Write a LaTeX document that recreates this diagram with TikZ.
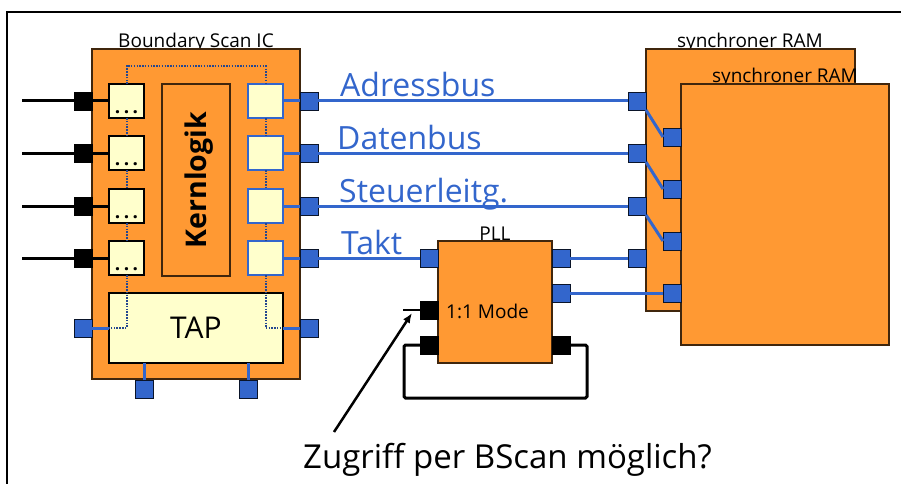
\documentclass[tikz,border=0pt]{standalone}
\usepackage{fontspec}
\setmainfont{Open Sans}
\usetikzlibrary{positioning,arrows.meta,calc}

\definecolor{chiporange}{HTML}{FF9933}
\definecolor{cellyellow}{HTML}{FFFFCC}
\definecolor{busblue}{HTML}{3366CC}

\begin{document}
\begin{tikzpicture}[
  x=1pt,y=-1pt,
  chip/.style={draw=black!75!chiporange,line width=1.3pt,fill=chiporange,inner sep=0pt,outer sep=0pt,anchor=north west},
  cell/.style={draw=black,line width=1.5pt,fill=cellyellow,inner sep=0pt,outer sep=0pt,minimum width=35pt,minimum height=34pt},
  bcell/.style={cell,draw=busblue},
  pinb/.style={draw=black!80!busblue,line width=.9pt,fill=busblue,inner sep=0pt,outer sep=0pt,minimum size=18pt},
  pink/.style={pinb,draw=black,fill=black},
  bus/.style={draw=busblue,line width=3pt},
  wire/.style={draw=black,line width=3pt},
  scanline/.style={draw=busblue!70!black,line width=2pt,dash pattern=on 1.5pt off 1.3pt},
  title/.style={font=\fontsize{19}{19}\selectfont,inner sep=0pt,anchor=base},
  buslabel/.style={font=\fontsize{32}{32}\selectfont,text=busblue,inner sep=0pt,anchor=base west}
]
\useasboundingbox (0,0) rectangle (901,484);

% ---- frame ----
\coordinate (ftop) at (901,12);
\coordinate (fcorner) at (7,12);
\coordinate (fbot) at (7,484);
\draw[line width=2.4pt] (ftop) -- (fcorner) -- (fbot);

% ---- boundary scan chip ----
\node[title] at (196,48) (ictitle) {Boundary Scan IC};
\node[chip,minimum width=208pt,minimum height=330pt] (ic) at (92,49) {};
\node[chip,minimum width=68pt,minimum height=192pt] (kern) at (162,84) {};
\node[font=\fontsize{28.5}{28.5}\selectfont\bfseries,rotate=90,yshift=-3pt] at (kern.center) (kerntext) {Kernlogik};
\node[cell,minimum width=174pt,minimum height=70pt,anchor=north west] (tap) at (109,293)
     {\fontsize{30}{30}\selectfont TAP};

\foreach \i/\y in {1/101,2/153,3/206,4/258} {
  \node[cell] (lc\i) at (126.5,\y) {};
  \node[bcell] (rc\i) at (265.5,\y) {};
  \node[pink,anchor=east] (lp\i) at (92,\y) {};
  \node[pinb,anchor=west] (rp\i) at (300,\y) {};
  \node[font=\fontsize{19}{19}\selectfont\bfseries,anchor=south,inner sep=0pt,yshift=4pt] at (lc\i.south) (dots\i) {.\kern3.4pt.\kern3.4pt.};
  \coordinate (lend\i) at (22,\y);
  \draw[wire] (lend\i) -- (lp\i);
  \draw[wire] (lp\i) -- (lc\i);
  \draw[bus] (rc\i) -- (rp\i);
}

% ---- scan chain ----
\coordinate (sl) at (126.5,66);
\coordinate (sr) at (265.5,66);
\coordinate (tl) at (126.5,328);
\coordinate (tr) at (265.5,328);
\draw[scanline] (lc1) -- (sl) -- (sr) -- (rc1);
\draw[scanline] (lc1) -- (lc2);
\draw[scanline] (lc2) -- (lc3);
\draw[scanline] (lc3) -- (lc4);
\draw[scanline] (rc1) -- (rc2);
\draw[scanline] (rc2) -- (rc3);
\draw[scanline] (rc3) -- (rc4);
\draw[scanline] (lc4) -- (tl) -- (tap.west |- tl);
\draw[scanline] (rc4) -- (tr) -- (tap.east |- tr);

% ---- TAP pins ----
\node[pinb,anchor=east] (tp1) at (92,328) {};
\node[pinb,anchor=west] (tp2) at (300,328) {};
\node[pinb,anchor=north] (tp3) at (144,380) {};
\node[pinb,anchor=north] (tp4) at (248,380) {};
\draw[bus] (tp1) -- (tap.west |- tl);
\draw[bus] (tp2) -- (tap.east |- tr);
\draw[bus] (tp3) -- (tp3 |- tap.south);
\draw[bus] (tp4) -- (tp4 |- tap.south);

% ---- rams ----
\node[title] at (750,48) (ramatitle) {synchroner RAM};
\node[chip,minimum width=209pt,minimum height=262pt] (rama) at (646,49) {};
\foreach \i/\y in {1/101,2/153,3/206,4/258}
  \node[pinb,anchor=east] (ap\i) at (646,\y) {};
\node[title] at (785,83) (rambtitle) {synchroner RAM};
\node[chip,minimum width=208pt,minimum height=261pt] (ramb) at (681,84) {};
\foreach \i/\y in {1/137,2/189,3/241,4/293}
  \node[pinb,anchor=east] (bp\i) at (681,\y) {};
\draw[bus] (ap1.south east) -- (bp1.west);
\draw[bus] (ap2.south east) -- (bp2.west);
\draw[bus] (ap3.south east) -- (bp3.west);

% ---- pll ----
\node[title] at (495,240) (plltitle) {PLL};
\node[chip,minimum width=114pt,minimum height=122pt] (pll) at (438,241) {};
\node[font=\fontsize{19}{19}\selectfont,anchor=base west,inner sep=0pt] at (446,318) (mode) {1:1 Mode};
\node[pinb,anchor=east] (pi) at (438,258) {};
\node[pink,anchor=east] (pm) at (438,310) {};
\node[pink,anchor=east] (pf) at (438,345) {};
\node[pinb,anchor=west] (po1) at (552,258) {};
\node[pinb,anchor=west] (po2) at (552,293) {};
\node[pink,anchor=west] (po3) at (552,345) {};

% ---- busses ----
\draw[bus] (rp1) -- (ap1);
\draw[bus] (rp2) -- (ap2);
\draw[bus] (rp3) -- (ap3);
\draw[bus] (rp4) -- (pi);
\draw[bus] (po1) -- (ap4);
\draw[bus] (po2) -- (bp4);
\node[buslabel] at (340,97) (adr) {Adressbus};
\node[buslabel] at (337,149.5) (dat) {Datenbus};
\node[buslabel] at (339,202) (ste) {Steuerleitg.};
\node[buslabel] at (341,254) (tak) {Takt};

% ---- feedback ----
\coordinate (fbl) at (404,345);
\coordinate (fbb) at (404,398);
\coordinate (fbc) at (587,398);
\coordinate (fbr) at (587,345);
\draw[wire,rounded corners=1.5pt] (pf) -- (fbl) -- (fbb) -- (fbc) -- (fbr) -- (po3);
\coordinate (mend) at (403,310);
\draw[line width=1.6pt] (pm) -- (mend);

% ---- question ----
\node[font=\fontsize{33}{33}\selectfont,anchor=base west,inner sep=0pt] at (303,468) (quest) {Zugriff per BScan möglich?};
\coordinate (astart) at (334,432);
\coordinate (aend) at (412,313);
\draw[-{Latex[length=10pt,width=8pt]},line width=2.5pt] (astart) -- (aend);
\end{tikzpicture}
\end{document}
